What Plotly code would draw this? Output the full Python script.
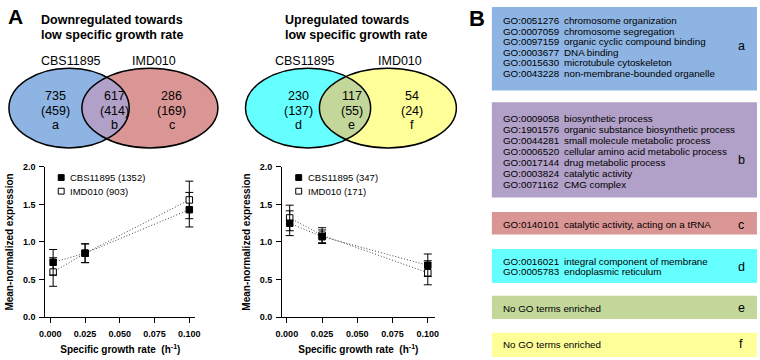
import numpy as np
import plotly.graph_objects as go

W, H = 760, 360
FONT = "Liberation Sans, Arial, sans-serif"


def px(x):
    return x / W


def py(y):
    return 1 - y / H


# ---------------- data ----------------
strains = ["CBS11895", "IMD010"]
growth_rate = [0.002, 0.025, 0.1]
x_ticks = [0.0, 0.025, 0.05, 0.075, 0.1]
x_tick_text = ["0.000", "0.025", "0.050", "0.075", "0.100"]
y_ticks = [0.0, 0.5, 1.0, 1.5, 2.0]

down_cbs_mean = [0.73, 0.85, 1.43]
down_cbs_err = [0.17, 0.125, 0.23]
down_imd_mean = [0.60, 0.85, 1.56]
down_imd_err = [0.19, 0.125, 0.25]
down_legend_n = [1352, 903]

up_cbs_mean = [1.25, 1.07, 0.69]
up_cbs_err = [0.165, 0.09, 0.15]
up_imd_mean = [1.32, 1.09, 0.59]
up_imd_err = [0.17, 0.10, 0.16]
up_legend_n = [347, 171]

down_counts = [735, 617, 286]
down_genes = [459, 414, 169]
down_regions = ["a", "b", "c"]
up_counts = [230, 117, 54]
up_genes = [137, 55, 24]
up_regions = ["d", "e", "f"]

go_a = [("GO:0051276", "chromosome organization"),
        ("GO:0007059", "chromosome segregation"),
        ("GO:0097159", "organic cyclic compound binding"),
        ("GO:0003677", "DNA binding"),
        ("GO:0015630", "microtubule cytoskeleton"),
        ("GO:0043228", "non-membrane-bounded organelle")]
go_b = [("GO:0009058", "biosynthetic process"),
        ("GO:1901576", "organic substance biosynthetic process"),
        ("GO:0044281", "small molecule metabolic process"),
        ("GO:0006520", "cellular amino acid metabolic process"),
        ("GO:0017144", "drug metabolic process"),
        ("GO:0003824", "catalytic activity"),
        ("GO:0071162", "CMG complex")]
go_c = [("GO:0140101", "catalytic activity, acting on a tRNA")]
go_d = [("GO:0016021", "integral component of membrane"),
        ("GO:0005783", "endoplasmic reticulum")]
go_e = []
go_f = []

# colours
C_BLUE = "#8DB4E2"
C_RED = "#DA9694"
C_PURPLE = "#B1A0C7"
C_CYAN = "#66FFFF"
C_YELLOW = "#FFFF99"
C_GREEN = "#C4D79B"

shapes = []
annotations = []


def ann(x, y, text, size, bold=False, xanchor="center"):
    annotations.append(dict(
        x=px(x), y=py(y), xref="paper", yref="paper", text=text,
        showarrow=False, xanchor=xanchor, yanchor="middle", borderpad=0,
        font=dict(size=size, color="black", family=FONT,
                  weight="bold" if bold else "normal")))


def ellipse_shape(cx, cy, rx, ry, fill, line=False):
    d = dict(type="circle", xref="paper", yref="paper",
             x0=px(cx - rx), x1=px(cx + rx), y0=py(cy + ry), y1=py(cy - ry),
             layer="above")
    if line:
        d.update(fillcolor="rgba(0,0,0,0)", line=dict(color="black", width=1.5))
    else:
        d.update(fillcolor=fill, line=dict(width=0))
    shapes.append(d)


def lens_shape(e1, e2, fill):
    (c1, cy1, a1, b1), (c2, cy2, a2, b2) = e1, e2
    t = np.linspace(-np.pi, np.pi, 721)
    x1 = c1 + a1 * np.cos(t)
    y1 = cy1 + b1 * np.sin(t)
    in2 = ((x1 - c2) / a2) ** 2 + ((y1 - cy2) / b2) ** 2 <= 1
    t2 = np.linspace(0, 2 * np.pi, 721)
    x2 = c2 + a2 * np.cos(t2)
    y2 = cy2 + b2 * np.sin(t2)
    in1 = ((x2 - c1) / a1) ** 2 + ((y2 - cy1) / b1) ** 2 <= 1
    xs = np.concatenate([x1[in2], x2[in1]])
    ys = np.concatenate([y1[in2], y2[in1]])
    path = "M " + " L ".join(f"{px(a):.5f},{py(b):.5f}" for a, b in zip(xs, ys)) + " Z"
    shapes.append(dict(type="path", xref="paper", yref="paper", path=path,
                       fillcolor=fill, line=dict(width=0), layer="above"))


def venn(e1, e2, c1, c2, c12, counts, genes, regions, region_x, label_x):
    ellipse_shape(*e1, c1)
    ellipse_shape(*e2, c2)
    lens_shape(e1, e2, c12)
    ellipse_shape(*e1, None, line=True)
    ellipse_shape(*e2, None, line=True)
    for s, lx in zip(strains, label_x):
        ann(lx, 58, s, 12.5)
    for n, g, r, rx in zip(counts, genes, regions, region_x):
        ann(rx, 94, str(n), 12.5)
        ann(rx, 109, f"({g})", 12.5)
        ann(rx, 123, r, 12.5)


# Venn diagrams
venn((64, 106, 61, 41), (146, 106, 69, 41), C_BLUE, C_RED, C_PURPLE,
     down_counts, down_genes, down_regions, [50, 110, 168], [66, 150])
venn((306.5, 106, 63.5, 41), (387.5, 106, 69.5, 41), C_CYAN, C_YELLOW, C_GREEN,
     up_counts, up_genes, up_regions, [297, 351, 412], [303, 400])

ann(35, 15, "Downregulated towards", 12.5, bold=True, xanchor="left")
ann(35, 31, "low specific growth rate", 12.5, bold=True, xanchor="left")
ann(282, 15, "Upregulated towards", 12.5, bold=True, xanchor="left")
ann(282, 31, "low specific growth rate", 12.5, bold=True, xanchor="left")
ann(10, 12, "A", 21, bold=True, xanchor="center")
ann(478, 14, "B", 22, bold=True, xanchor="center")

# Panel B boxes
boxes = [
    (go_a, C_BLUE, 2, 88, 16, 10.9, "a", 42),
    (go_b, C_PURPLE, 100, 198, 117, 11.2, "b", 159),
    (go_c, C_RED, 213, 236, 226, 11, "c", 226),
    (go_d, C_CYAN, 251, 286, 264, 10.6, "d", 269),
    (go_e, C_GREEN, 299, 323, 312, 11, "e", 312),
    (go_f, C_YELLOW, 337, 362, 349, 11, "f", 349),
]
for terms, col, top, bot, y0, dy, lab, ly in boxes:
    shapes.append(dict(type="rect", xref="paper", yref="paper",
                       x0=px(493), x1=px(762), y0=py(bot), y1=py(top),
                       fillcolor=col, line=dict(width=0), layer="below"))
    if terms:
        for i, (gid, desc) in enumerate(terms):
            ann(503, y0 + i * dy, gid, 9.8, xanchor="left")
            ann(565, y0 + i * dy, desc, 9.8, xanchor="left")
    else:
        ann(503, y0, "No GO terms enriched", 9.8, xanchor="left")
    ann(746, ly, lab, 12.5)

# ---------------- scatter panels ----------------
fig = go.Figure()


def add_panel(xa, ya, cbs_m, cbs_e, imd_m, imd_e, ns, leg_x):
    for m in (imd_m, cbs_m):
        fig.add_trace(go.Scatter(x=growth_rate, y=m, mode="lines", xaxis=xa, yaxis=ya,
                                 line=dict(color="#444444", width=1, dash="1px,2px"),
                                 showlegend=False, hoverinfo="skip"))
    fig.add_trace(go.Scatter(
        x=growth_rate, y=imd_m, mode="markers", xaxis=xa, yaxis=ya,
        name=f"{strains[1]} ({ns[1]})", showlegend=False,
        marker=dict(symbol="square", size=6.5, color="white",
                    line=dict(color="black", width=1)),
        error_y=dict(type="data", array=imd_e, color="black", thickness=1, width=4)))
    fig.add_trace(go.Scatter(
        x=growth_rate, y=cbs_m, mode="markers", xaxis=xa, yaxis=ya,
        name=f"{strains[0]} ({ns[0]})", showlegend=False,
        marker=dict(symbol="square", size=6.5, color="black",
                    line=dict(color="black", width=1)),
        error_y=dict(type="data", array=cbs_e, color="black", thickness=1, width=4)))
    # legend keys (filled / open square) and labels
    for i, (fill, yy) in enumerate((("black", 177.5), ("white", 191.5))):
        shapes.append(dict(type="rect", xref="paper", yref="paper",
                           x0=px(leg_x - 3), x1=px(leg_x + 3),
                           y0=py(yy + 3), y1=py(yy - 3),
                           fillcolor=fill, line=dict(color="black", width=1),
                           layer="above"))
        ann(leg_x + 8, yy, f"{strains[i]} ({ns[i]})", 9.5, xanchor="left")


add_panel("x", "y", down_cbs_mean, down_cbs_err, down_imd_mean, down_imd_err, down_legend_n, 56)
add_panel("x2", "y2", up_cbs_mean, up_cbs_err, up_imd_mean, up_imd_err, up_legend_n, 297)

tickfont = dict(size=9, family=FONT, color="black", weight="bold")
titlefont = dict(size=10, family=FONT, color="black", weight="bold")


def xaxis(d0, d1, r0, r1, anchor):
    return dict(domain=[px(d0), px(d1)], range=[r0, r1], anchor=anchor,
                tickvals=x_ticks, ticktext=x_tick_text, ticks="outside", ticklen=5,
                tickwidth=1, tickcolor="black", showline=True, linecolor="black",
                linewidth=1, showgrid=False, zeroline=False, tickfont=tickfont,
                ticklabelstandoff=3,
                title=dict(text="Specific growth rate  (h<sup>-1</sup>)", font=titlefont, standoff=8))


def yaxis(anchor):
    return dict(domain=[py(321), py(166.5)], range=[0, 2], anchor=anchor,
                tickvals=y_ticks, tickformat=".1f", ticks="outside", ticklen=5,
                tickwidth=1, tickcolor="black", showline=True, linecolor="black",
                linewidth=1, showgrid=False, zeroline=False, tickfont=tickfont,
                ticklabelstandoff=2,
                title=dict(text="Mean-normalized expression", font=titlefont, standoff=7))


fig.update_layout(
    width=W, height=H, margin=dict(l=0, r=0, t=0, b=0),
    paper_bgcolor="white", plot_bgcolor="white",
    font=dict(family=FONT, color="black"),
    showlegend=False,
    xaxis=xaxis(40, 192, -0.00355, 0.10426, "y"),
    yaxis=yaxis("x"),
    xaxis2=xaxis(280, 435, -0.0035, 0.1049, "y2"),
    yaxis2=yaxis("x2"),
    shapes=shapes, annotations=annotations,
)

fig.write_html("out.html", config={"displayModeBar": False},
               post_script="document.body.style.margin='0';document.body.style.overflow='hidden';")
